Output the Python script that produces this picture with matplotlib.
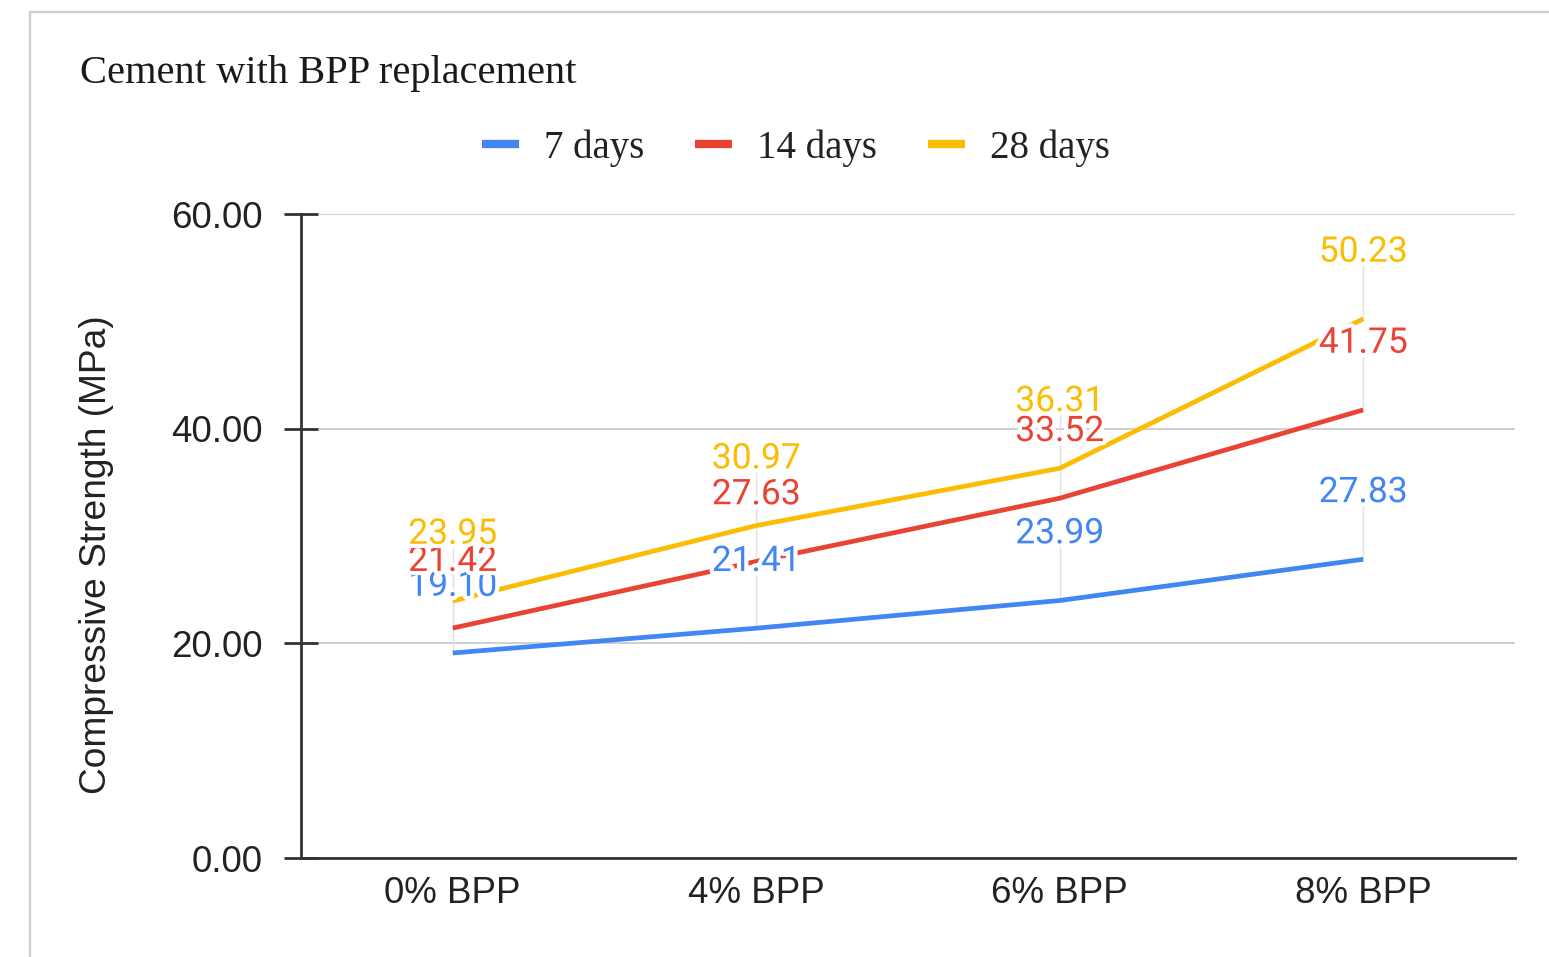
import matplotlib
matplotlib.use("Agg")
import matplotlib.pyplot as plt
import matplotlib.patheffects as pe
from matplotlib.lines import Line2D
from matplotlib.patches import Rectangle

categories = ["0% BPP", "4% BPP", "6% BPP", "8% BPP"]
days_7 = [19.10, 21.41, 23.99, 27.83]
days_14 = [21.42, 27.63, 33.52, 41.75]
days_28 = [23.95, 30.97, 36.31, 50.23]
series_names = ["7 days", "14 days", "28 days"]
colors = ["#4285F4", "#EA4335", "#FBBC04"]
yticks = [0, 20, 40, 60]

W, H = 1549, 957
fig = plt.figure(figsize=(W / 100, H / 100), dpi=100)
fig.patch.set_facecolor("white")

# outer card border (only top and left are visible in the crop)
fig.add_artist(Rectangle((30 / W, -0.1), 1.2, 1 - 12 / H + 0.1,
                         transform=fig.transFigure, fill=False,
                         edgecolor="#cfcfcf", linewidth=1.6))

ax = fig.add_axes([301 / W, 1 - 858 / H, (1515 - 301) / W, (858 - 214) / H])
x = list(range(len(categories)))

ax.set_xlim(-0.5, 3.5)
ax.set_ylim(0, 60)

for s in ["top", "right"]:
    ax.spines[s].set_visible(False)
for s in ["left", "bottom"]:
    ax.spines[s].set_color("#333333")
    ax.spines[s].set_linewidth(2)

ax.set_yticks(yticks)
ax.set_yticklabels(["%.2f" % t for t in yticks])
ax.yaxis.grid(True, color="#cccccc", linewidth=1.3, zorder=0)
ax.set_axisbelow(True)
ax.tick_params(axis="y", direction="inout", length=25, width=2, color="#333333",
               pad=15, labelsize=26.5, labelcolor="#222222")
ax.set_xticks(x)
ax.set_xticklabels(categories)
ax.tick_params(axis="x", length=0, pad=13, labelsize=26.5, labelcolor="#222222")
for lab in ax.get_xticklabels() + ax.get_yticklabels():
    lab.set_fontfamily("Liberation Sans")

all_series = [days_7, days_14, days_28]
for vals, c in zip(all_series, colors):
    ax.plot(x, vals, color=c, linewidth=3.4, solid_capstyle="butt", zorder=3)

# leader lines and value labels
for vals, c in zip(all_series, colors):
    ax.vlines(x, vals, [v + 5.0 for v in vals], color="#e2e2e2", linewidth=1, zorder=1)
    for xi, v in zip(x, vals):
        ax.annotate("%.2f" % v, (xi, v), xytext=(0, 48), textcoords="offset points",
                    ha="center", va="center", fontsize=25.5, color=c,
                    fontfamily="Roboto", zorder=5,
                    path_effects=[pe.withStroke(linewidth=6, foreground="white")])

fig.text(97 / W, 1 - 555 / H, "Compressive Strength (MPa)", rotation=90,
         ha="center", va="center", fontsize=26.7, color="#222222",
         fontfamily="Liberation Sans")

fig.text(80 / W, 1 - 74 / H, "Cement with BPP replacement", ha="left", va="center",
         fontsize=29.2, color="#1a1a1a", fontfamily="Liberation Serif")

handles = [Line2D([0], [0], color=c, linewidth=6, solid_capstyle="butt") for c in colors]
fig.legend(handles, series_names, loc="center", bbox_to_anchor=(796 / W, 1 - 148 / H),
           ncol=3, frameon=False, handlelength=0.95, handletextpad=0.65,
           columnspacing=1.3, prop={"family": "Liberation Serif", "size": 28},
           labelcolor="#222222")

fig.savefig("out.png", dpi=100, facecolor="white")
